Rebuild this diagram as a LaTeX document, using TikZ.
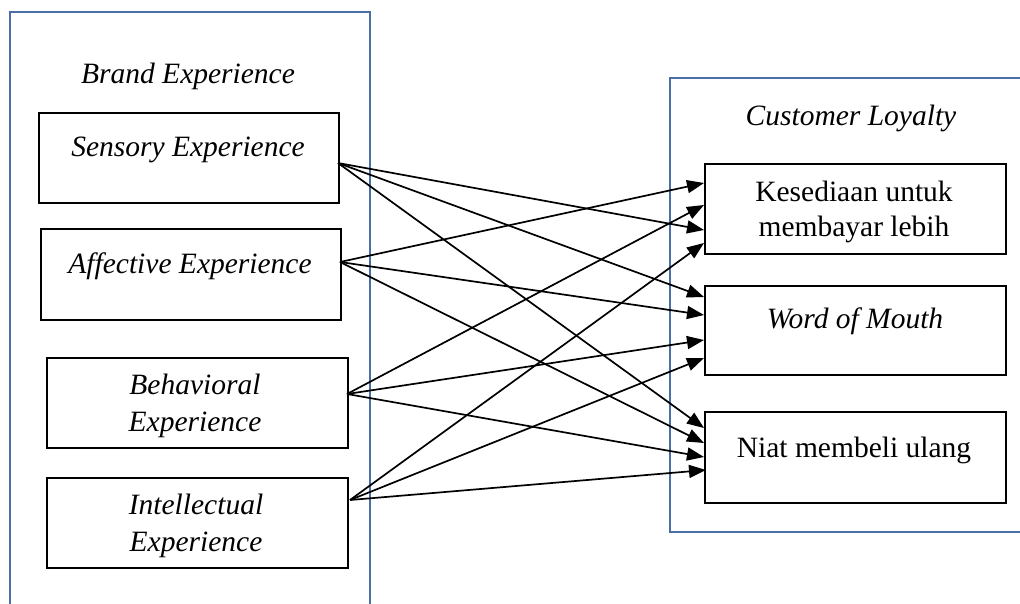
\documentclass[tikz,border=0pt]{standalone}
\usepackage{fontspec}
\setmainfont{Liberation Serif}
\usetikzlibrary{arrows.meta}
\definecolor{frameblue}{RGB}{74,110,165}
\begin{document}
\begin{tikzpicture}[x=1pt,y=-1pt,
  box/.style={draw=black,line width=1.8pt,rectangle,inner sep=0pt,anchor=north west},
  group/.style={draw=frameblue,line width=1.5pt},
  txt/.style={font=\fontsize{29.5}{35}\selectfont,inner sep=0pt,align=center,yshift=-3pt},
  itxt/.style={txt,font=\fontsize{29.5}{35}\selectfont\itshape},
  link/.style={line width=1.7pt,-{Triangle[length=17pt,width=13pt]}}]
\useasboundingbox (0,0) rectangle (1020,604);
\fill[white] (0,0) rectangle (1020,604);
\begin{scope}
\clip (0,0) rectangle (1020,604);
% outer frames
\draw[group] (10,620) -- (10,12) -- (370,12) -- (370,620);
\draw[group] (1040,78) -- (670,78) -- (670,532) -- (1040,532);
\end{scope}

\node[itxt] (bet) at (188,73) {Brand Experience};
\node[itxt] (clt) at (851,115) {Customer Loyalty};

% brand experience dimensions
\node[box,minimum width=300pt,minimum height=90pt] (sens) at (38,112) {};
\node[box,minimum width=300pt,minimum height=91pt] (aff) at (40,228) {};
\node[box,minimum width=301pt,minimum height=90pt] (beh) at (46,357) {};
\node[box,minimum width=301pt,minimum height=90pt] (int) at (46,477) {};
\node[itxt] at (188,147) {Sensory Experience};
\node[itxt] at (190,263) {Affective Experience};
\node[itxt,font=\fontsize{29.5}{37}\selectfont\itshape] at (195,403) {Behavioral\\Experience};
\node[itxt,font=\fontsize{29.5}{37}\selectfont\itshape] at (196,523) {Intellectual\\Experience};

% customer loyalty dimensions
\node[box,minimum width=301pt,minimum height=90pt] (kes) at (704,163) {};
\node[box,minimum width=301pt,minimum height=89pt] (wom) at (704,285) {};
\node[box,minimum width=301pt,minimum height=91pt] (niat) at (704,411) {};
\node[txt] at (854,209) {Kesediaan untuk\\membayar lebih};
\node[itxt] at (855,318) {Word of Mouth};
\node[txt] at (854,447) {Niat membeli ulang};

% connector ends
\coordinate (s0) at (338,163);
\coordinate (a0) at (340,262);
\coordinate (b0) at (347,394);
\coordinate (i0) at (350,500);
\coordinate (kA) at (704,183);
\coordinate (kB) at (704,205);
\coordinate (kS) at (704,230);
\coordinate (kI) at (704,243);
\coordinate (wS) at (704,297);
\coordinate (wA) at (704,315);
\coordinate (wB) at (704,340);
\coordinate (wI) at (704,358);
\coordinate (nS) at (704,428);
\coordinate (nA) at (704,443);
\coordinate (nB) at (704,457);
\coordinate (nI) at (706,470);

\draw[link] (s0) -- (kS);
\draw[link] (s0) -- (wS);
\draw[link] (s0) -- (nS);
\draw[link] (a0) -- (kA);
\draw[link] (a0) -- (wA);
\draw[link] (a0) -- (nA);
\draw[link] (b0) -- (kB);
\draw[link] (b0) -- (wB);
\draw[link] (b0) -- (nB);
\draw[link] (i0) -- (kI);
\draw[link] (i0) -- (wI);
\draw[link] (i0) -- (nI);
\end{tikzpicture}
\end{document}
